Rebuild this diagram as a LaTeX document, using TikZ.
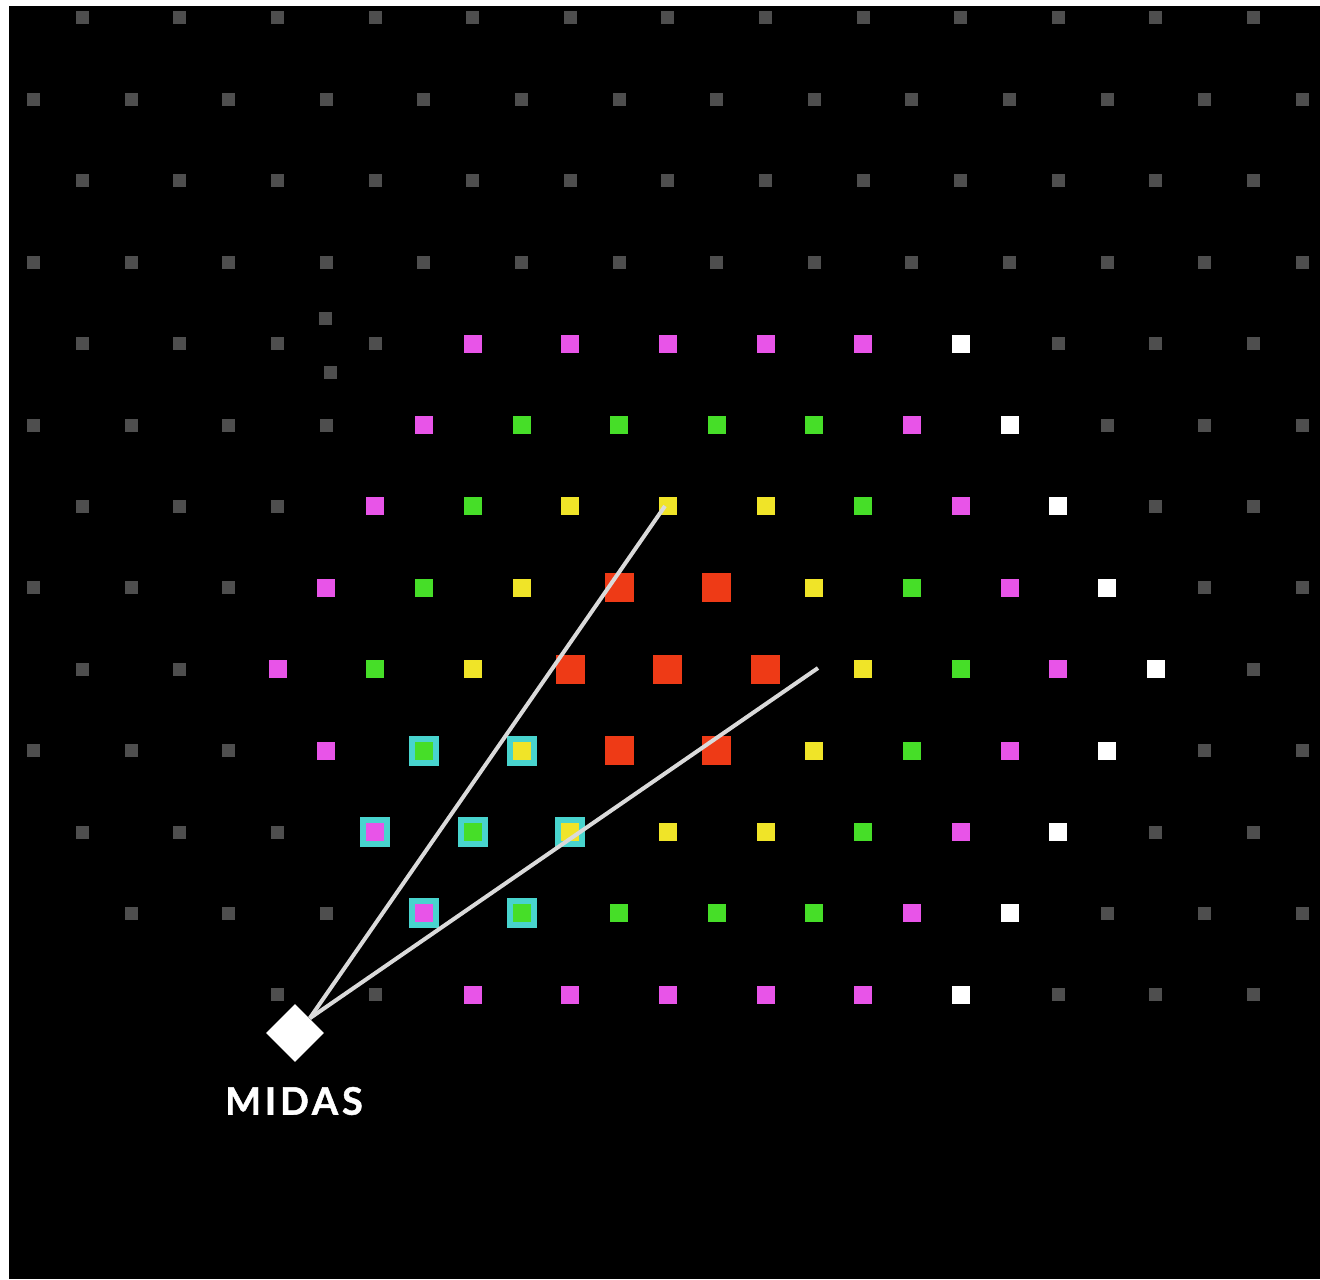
\documentclass[tikz,border=0pt]{standalone}
\usepackage{xcolor}
\usepackage{tikz}
\usetikzlibrary{shapes.geometric}
\usepackage{fontspec}
\setsansfont{Lato}
\newfontfamily\labelfont{Lato}[LetterSpace=10,FakeBold=1.2]
\definecolor{dotgray}{RGB}{78,78,78}
\definecolor{magc}{RGB}{232,84,232}
\definecolor{grnc}{RGB}{70,222,40}
\definecolor{yelc}{RGB}{240,228,40}
\definecolor{redc}{RGB}{238,58,22}
\definecolor{cyanc}{RGB}{72,212,206}
\definecolor{rayc}{RGB}{218,218,218}
\tikzset{
  cell/.style={fill=#1,inner sep=0},
  ring/.style={draw=cyanc,line width=3pt,minimum size=12pt},
  ray/.style={draw=rayc,line width=2pt}
}
\begin{document}
\begin{tikzpicture}[x=0.5pt,y=-0.5pt]
\fill[white] (0,0) rectangle (1320,1279);
\fill[black] (9,6) rectangle (1320,1279);
\useasboundingbox (0,0) rectangle (1320,1279);
\foreach \r in {0,...,12}{
  \foreach \c in {0,...,26}{
    \pgfmathtruncatemacro\odd{mod(\r+\c,2)}
    \pgfmathtruncatemacro\gap{(\r==11 && \c==0) || (\r==12 && \c<4)}
    \ifnum\odd=1 \ifnum\gap=0
      \pgfmathtruncatemacro\dr{abs(\r-8)}
      \pgfmathtruncatemacro\dc{\c-13}
      \pgfmathtruncatemacro\hd{max(\dr,(\dr+abs(\dc))/2)}
      \pgfmathtruncatemacro\cd{max(abs(\r-10),(abs(\r-10)+abs(\c-9))/2)}
      \def\fc{dotgray}\def\sz{6.5pt}
      \ifnum\hd=5 \ifnum\dc>\dr \def\fc{white}\def\sz{9pt}\fi\fi
      \ifnum\hd=4 \def\fc{magc}\def\sz{9pt}\fi
      \ifnum\hd=3 \def\fc{grnc}\def\sz{9pt}\fi
      \ifnum\hd=2 \def\fc{yelc}\def\sz{9pt}\fi
      \ifnum\hd<2 \def\fc{redc}\def\sz{14.5pt}\fi
      \ifnum\cd<2
        \node[cell=\fc,ring] (s-\r-\c) at ({33.5+48.8*\c},{18+81.4*\r}) {};
      \else
        \node[cell=\fc,minimum size=\sz] (s-\r-\c) at ({33.5+48.8*\c},{18+81.4*\r}) {};
      \fi
    \fi\fi
  }
}
\node[cell=dotgray,minimum size=6.5pt] (x1) at (325,318) {};
\node[cell=dotgray,minimum size=6.5pt] (x2) at (330,372) {};
\node[diamond,fill=white,inner sep=0,minimum size=29pt] (midas) at (295,1033) {};
\node[text=white,font=\labelfont\bfseries\fontsize{19}{19}\selectfont] (lbl) at (294,1101) {MIDAS};
\coordinate (e1) at (665,506);
\coordinate (e2) at (818,668);
\draw[ray] (midas.north east) -- (e1);
\draw[ray] (midas.north east) -- (e2);
\end{tikzpicture}
\end{document}
